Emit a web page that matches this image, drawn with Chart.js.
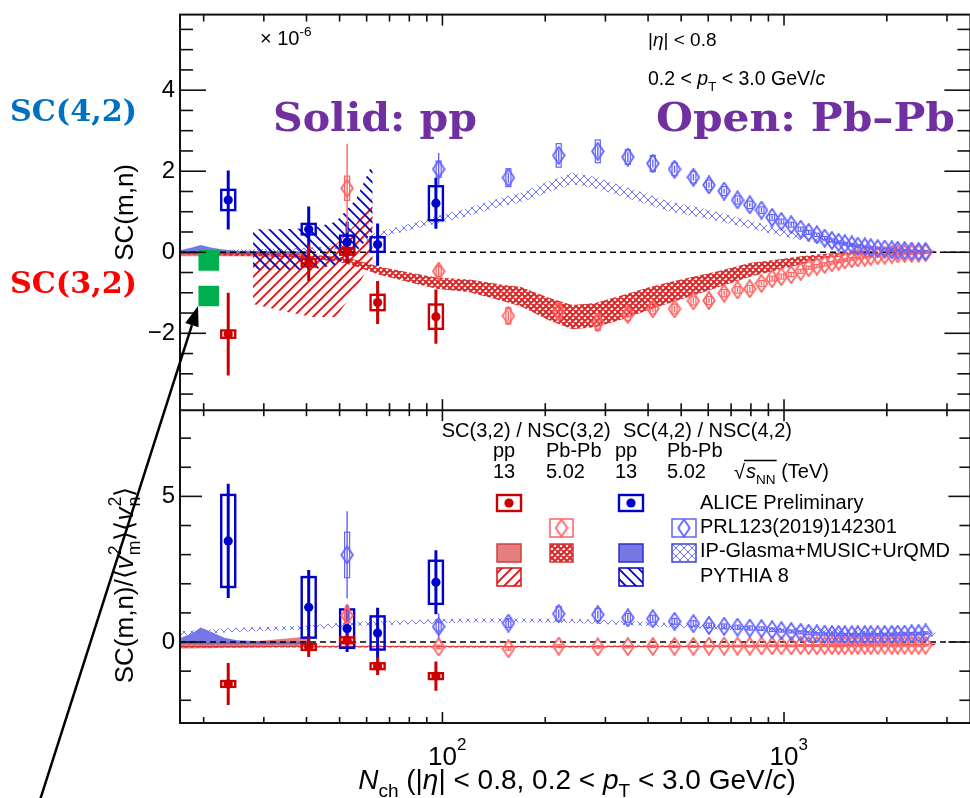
<!DOCTYPE html>
<html><head><meta charset="utf-8">
<script src="https://cdn.jsdelivr.net/npm/chart.js@4.4.1/dist/chart.umd.min.js"></script>
<style>
html,body{margin:0;padding:0;background:#fff;overflow:hidden}
#box{width:970px;height:798px;overflow:hidden;position:relative;background:#fff}
#c{position:absolute;left:0;top:0}
</style></head><body><div id="box"><canvas id="c" width="985" height="798"></canvas></div>
<script>
// ---------------- DATA ----------------
// ALICE Preliminary, pp 13 TeV
const ppNch = [23.6, 40.6, 52.6, 64.6, 95.7];
const ppSC42 = [1.29, 0.57, 0.25, 0.19, 1.21];
const ppSC42Stat = [0.73, 0.56, 0.5, 0.52, 0.63];
const ppSC42Sys = [0.25, 0.13, 0.16, 0.18, 0.42];
const ppSC32 = [-2.02, -0.26, 0.02, -1.24, -1.59];
const ppSC32Stat = [1.02, 0.45, 0.28, 0.53, 0.67];
const ppSC32Sys = [0.09, 0.09, 0.08, 0.19, 0.3];
const ppNSC42 = [3.47, 1.19, 0.46, 0.31, 2.05];
const ppNSC42Stat = [1.96, 1.28, 0.8, 0.87, 1.1];
const ppNSC42Sys = [1.58, 1.04, 0.66, 0.57, 0.74];
const ppNSC32 = [-1.44, -0.17, 0.06, -0.83, -1.17];
const ppNSC32Stat = [0.72, 0.34, 0.2, 0.3, 0.5];
const ppNSC32Sys = [0.1, 0.1, 0.1, 0.1, 0.1];

// PRL123(2019)142301, Pb-Pb 5.02 TeV
const pbNch = [52.6, 97.5, 156, 219, 285, 349, 413, 478, 543, 603, 668, 731, 794, 859, 923, 982, 1050, 1119, 1181, 1248, 1315, 1381, 1445, 1507, 1579, 1644, 1724, 1794, 1881, 1971, 2067, 2151, 2254, 2363, 2477, 2597];
const pbSC42 = [null, 2.05, 1.84, 2.39, 2.49, 2.35, 2.19, 2.05, 1.85, 1.66, 1.51, 1.29, 1.17, 1.04, 0.86, 0.76, 0.68, 0.57, 0.49, 0.43, 0.35, 0.29, 0.245, 0.21, 0.18, 0.15, 0.13, 0.11, 0.09, 0.08, 0.06, 0.05, 0.04, 0.03, 0.02, 0.02];
const pbSC42Stat = [0, 0.4, 0.12, 0.14, 0.14, 0.12, 0.1, 0.09, 0.08, 0.07, 0.06, 0.06, 0.05, 0.05, 0.05, 0.04, 0.04, 0.04, 0.04, 0.03, 0.03, 0.03, 0.03, 0.03, 0.03, 0.02, 0.02, 0.02, 0.02, 0.02, 0.02, 0.02, 0.02, 0.02, 0.02, 0.02];
const pbSC42Sys = [0, 0.2, 0.22, 0.29, 0.28, 0.18, 0.2, 0.16, 0.14, 0.12, 0.11, 0.1, 0.09, 0.08, 0.07, 0.06, 0.06, 0.05, 0.05, 0.04, 0.04, 0.04, 0.03, 0.03, 0.03, 0.03, 0.02, 0.02, 0.02, 0.02, 0.02, 0.02, 0.02, 0.02, 0.02, 0.02];
const pbSC32 = [1.58, -0.47, -1.57, -1.45, -1.73, -1.53, -1.39, -1.40, -1.20, -1.19, -1.01, -0.93, -0.90, -0.77, -0.65, -0.60, -0.55, -0.47, -0.38, -0.34, -0.30, -0.26, -0.22, -0.19, -0.16, -0.14, -0.12, -0.10, -0.08, -0.07, -0.05, -0.04, -0.03, -0.03, -0.02, -0.01];
const pbSC32Stat = [1.1, 0.23, 0.12, 0.12, 0.12, 0.1, 0.09, 0.08, 0.07, 0.06, 0.06, 0.05, 0.05, 0.04, 0.04, 0.04, 0.03, 0.03, 0.03, 0.03, 0.03, 0.02, 0.02, 0.02, 0.02, 0.02, 0.02, 0.02, 0.02, 0.02, 0.02, 0.02, 0.02, 0.02, 0.02, 0.02];
const pbSC32Sys = [0.3, 0.12, 0.2, 0.2, 0.2, 0.15, 0.13, 0.12, 0.1, 0.1, 0.09, 0.08, 0.08, 0.07, 0.06, 0.06, 0.05, 0.05, 0.04, 0.04, 0.04, 0.03, 0.03, 0.03, 0.03, 0.02, 0.02, 0.02, 0.02, 0.02, 0.02, 0.02, 0.02, 0.02, 0.02, 0.02];
const pbNSC42 = [2.99, 0.53, 0.65, 0.97, 0.94, 0.83, 0.80, 0.71, 0.63, 0.57, 0.54, 0.51, 0.48, 0.46, 0.42, 0.39, 0.36, 0.33, 0.30, 0.28, 0.27, 0.26, 0.26, 0.25, 0.25, 0.25, 0.25, 0.25, 0.25, 0.26, 0.26, 0.27, 0.27, 0.28, 0.29, 0.31];
const pbNSC42Stat = [1.5, 0.45, 0.15, 0.15, 0.13, 0.12, 0.1, 0.09, 0.08, 0.07, 0.07, 0.06, 0.06, 0.05, 0.05, 0.05, 0.05, 0.04, 0.04, 0.04, 0.04, 0.04, 0.04, 0.04, 0.04, 0.04, 0.04, 0.04, 0.04, 0.04, 0.04, 0.04, 0.04, 0.04, 0.04, 0.04];
const pbNSC42Sys = [0.78, 0.15, 0.15, 0.25, 0.2, 0.15, 0.12, 0.1, 0.1, 0.08, 0.08, 0.07, 0.07, 0.06, 0.06, 0.05, 0.05, 0.05, 0.05, 0.04, 0.04, 0.04, 0.04, 0.04, 0.04, 0.04, 0.04, 0.04, 0.04, 0.04, 0.04, 0.04, 0.04, 0.04, 0.04, 0.04];
const pbNSC32 = [0.91, -0.17, -0.23, -0.14, -0.17, -0.16, -0.15, -0.15, -0.15, -0.14, -0.14, -0.14, -0.14, -0.13, -0.13, -0.13, -0.13, -0.12, -0.12, -0.12, -0.12, -0.12, -0.12, -0.12, -0.11, -0.11, -0.11, -0.11, -0.11, -0.11, -0.11, -0.11, -0.11, -0.11, -0.11, -0.11];
const pbNSC32Stat = [0.4, 0.08, 0.06, 0.05, 0.05, 0.05, 0.04, 0.04, 0.04, 0.04, 0.03, 0.03, 0.03, 0.03, 0.03, 0.03, 0.03, 0.03, 0.03, 0.03, 0.03, 0.03, 0.03, 0.03, 0.03, 0.03, 0.03, 0.03, 0.03, 0.03, 0.03, 0.03, 0.03, 0.03, 0.03, 0.03];
const pbNSC32Sys = [0.25, 0.06, 0.05, 0.05, 0.04, 0.04, 0.04, 0.04, 0.03, 0.03, 0.03, 0.03, 0.03, 0.03, 0.03, 0.03, 0.03, 0.03, 0.03, 0.03, 0.03, 0.03, 0.03, 0.03, 0.03, 0.03, 0.03, 0.03, 0.03, 0.03, 0.03, 0.03, 0.03, 0.03, 0.03, 0.03];

// IP-Glasma+MUSIC+UrQMD, Pb-Pb (centre and half width of band)
const modelPbN = [17, 20, 25, 30, 40, 50, 55, 65, 80, 96, 120, 150, 170, 205, 240, 280, 330, 400, 460, 550, 640, 800, 1000, 1120, 1300, 1600, 2000, 2500, 2800];
const modelPbSC42 = [0.02, 0.03, 0.04, 0.05, 0.07, 0.12, 0.22, 0.43, 0.62, 0.8, 1.0, 1.25, 1.35, 1.62, 1.82, 1.72, 1.53, 1.3, 1.13, 1.0, 0.88, 0.68, 0.47, 0.38, 0.28, 0.17, 0.08, 0.03, 0.02];
const modelPbSC42W = [0.03, 0.03, 0.03, 0.03, 0.04, 0.05, 0.06, 0.07, 0.08, 0.09, 0.1, 0.11, 0.12, 0.13, 0.14, 0.14, 0.13, 0.13, 0.12, 0.12, 0.11, 0.1, 0.09, 0.08, 0.07, 0.05, 0.04, 0.03, 0.03];
const modelPbSC32 = [-0.02, -0.03, -0.05, -0.06, -0.1, -0.18, -0.25, -0.45, -0.62, -0.76, -0.83, -1.0, -1.1, -1.4, -1.6, -1.55, -1.38, -1.15, -1.0, -0.82, -0.67, -0.43, -0.28, -0.2, -0.1, -0.03, 0.0, 0.0, 0.0];
const modelPbSC32W = [0.03, 0.03, 0.04, 0.04, 0.05, 0.06, 0.08, 0.1, 0.12, 0.14, 0.16, 0.2, 0.24, 0.28, 0.3, 0.3, 0.3, 0.28, 0.26, 0.23, 0.2, 0.17, 0.12, 0.1, 0.06, 0.04, 0.03, 0.02, 0.02];
const modelPbNSC42 = [0.3, 0.35, 0.42, 0.45, 0.5, 0.58, 0.62, 0.65, 0.68, 0.71, 0.74, 0.74, 0.74, 0.73, 0.72, 0.7, 0.66, 0.62, 0.58, 0.54, 0.5, 0.46, 0.42, 0.4, 0.37, 0.33, 0.3, 0.27, 0.25];
const modelPbNSC42W = [0.07, 0.07, 0.07, 0.07, 0.07, 0.07, 0.07, 0.07, 0.07, 0.07, 0.07, 0.07, 0.07, 0.07, 0.07, 0.07, 0.07, 0.07, 0.07, 0.07, 0.07, 0.07, 0.07, 0.07, 0.07, 0.07, 0.07, 0.07, 0.07];
const modelPbNSC32 = [-0.16, -0.16, -0.16, -0.16, -0.16, -0.16, -0.16, -0.16, -0.16, -0.16, -0.16, -0.16, -0.16, -0.16, -0.16, -0.16, -0.15, -0.15, -0.15, -0.15, -0.14, -0.14, -0.13, -0.13, -0.12, -0.11, -0.1, -0.09, -0.08];
const modelPbNSC32W = [0.03, 0.03, 0.03, 0.03, 0.03, 0.03, 0.03, 0.03, 0.03, 0.03, 0.03, 0.03, 0.03, 0.03, 0.03, 0.03, 0.03, 0.03, 0.03, 0.03, 0.03, 0.03, 0.03, 0.03, 0.03, 0.03, 0.03, 0.03, 0.03];

// IP-Glasma+MUSIC+UrQMD, pp (upper / lower edge)
const modelPpN = [17, 18.5, 19.6, 21, 23, 25, 30, 35, 41];
const modelPpSC42Hi = [0.05, 0.12, 0.18, 0.12, 0.06, 0.04, 0.03, 0.02, 0.02];
const modelPpSC42Lo = [-0.03, -0.03, -0.03, -0.03, -0.03, -0.03, -0.03, -0.03, -0.03];
const modelPpSC32Hi = [0.03, 0.03, 0.03, 0.03, 0.03, 0.03, 0.03, 0.02, 0.02];
const modelPpSC32Lo = [-0.1, -0.1, -0.1, -0.1, -0.1, -0.1, -0.1, -0.1, -0.1];
const modelPpNSC42Hi = [0.12, 0.3, 0.5, 0.35, 0.15, 0.06, 0.03, 0.02, 0.02];
const modelPpNSC42Lo = [-0.08, -0.08, -0.08, -0.08, -0.08, -0.08, -0.08, -0.08, -0.08];
const modelPpNSC32Hi = [-0.02, -0.02, -0.01, -0.01, 0.0, 0.0, 0.05, 0.12, 0.2];
const modelPpNSC32Lo = [-0.22, -0.22, -0.21, -0.21, -0.2, -0.2, -0.18, -0.15, -0.12];

// PYTHIA 8, pp (upper / lower edge)
const pythiaN = [27.9, 34, 41.7, 48.8, 55.8, 62.5];
const pythiaSC42Hi = [0.57, 0.57, 0.6, 0.75, 1.3, 2.2];
const pythiaSC42Lo = [-0.43, -0.43, -0.43, -0.3, 0.0, 0.5];
const pythiaSC32Hi = [0.0, -0.05, -0.1, 0.2, 0.7, 1.35];
const pythiaSC32Lo = [-1.28, -1.45, -1.6, -1.6, -0.9, -0.2];

// slide annotation markers (green squares)
const markNch = [20.7, 20.7];
const markSC = [-0.2, -1.08];

// axis ticks
const yTopLabels = [-2, 0, 2, 4];
const yBotLabels = [0, 5];
const xMajorTicks = [100, 1000];
const xMinorTicks = [20, 30, 40, 50, 60, 70, 80, 90, 200, 300, 400, 500, 600, 700, 800, 900, 2000, 3000];

// ---------------- STYLE HELPERS ----------------
const FONT = 'Liberation Sans';
Chart.defaults.font.family = FONT;
const canvas = document.getElementById('c');
const mctx = canvas.getContext('2d');
const C_BLUE = '#0000CC', C_RED = '#CC0000', C_LBLUE = '#6262FF', C_LRED = '#FF6262';

function pat(kind, color, lw, s) {
  const c = document.createElement('canvas'); c.width = s; c.height = s;
  const g = c.getContext('2d'); g.strokeStyle = color; g.lineWidth = lw;
  g.beginPath();
  if (kind !== 'back') { g.moveTo(-s, 2*s); g.lineTo(2*s, -s); g.moveTo(-s, s); g.lineTo(s, -s); g.moveTo(0, 2*s); g.lineTo(2*s, 0); }
  if (kind !== 'fwd') { g.moveTo(-s, -s); g.lineTo(2*s, 2*s); g.moveTo(-s, 0); g.lineTo(s, 2*s); g.moveTo(0, -s); g.lineTo(2*s, s); }
  g.stroke();
  return mctx.createPattern(c, 'repeat');
}
const patPyBlue = pat('back', C_BLUE, 1.8, 10);
const patPyRed = pat('fwd', '#DD1111', 1.8, 10);
const patPbBlue = pat('cross', '#7070FF', 1, 8);
const patPbRed = pat('cross', '#D82828', 2, 6);
const fillPpBlue = 'rgba(95,95,225,0.85)';
const fillPpRed = 'rgba(225,105,105,0.85)';

function diamondImg(color) {
  const c = document.createElement('canvas'); c.width = 14; c.height = 19;
  const g = c.getContext('2d'); g.strokeStyle = color; g.lineWidth = 1.8;
  g.beginPath(); g.moveTo(7, 1); g.lineTo(12.8, 9.5); g.lineTo(7, 18); g.lineTo(1.2, 9.5); g.closePath(); g.stroke();
  return c;
}
const dBlue = diamondImg(C_LBLUE), dRed = diamondImg(C_LRED);

function pts(xs, ys, es, ss) {
  return xs.map((x, i) => ({ x, y: ys[i], e: es ? es[i] : 0, s: ss ? ss[i] : 0 }));
}
function bandHL(label, xs, hi, lo, axis, fill) {
  return [
    { type: 'line', label: label + ' hi', yAxisID: axis, data: xs.map((x, i) => ({ x, y: hi[i] })), showLine: true,
      borderColor: 'rgba(0,0,0,0)', borderWidth: 0, pointRadius: 0, backgroundColor: fill, fill: '+1', tension: 0 },
    { type: 'line', label: label + ' lo', yAxisID: axis, data: xs.map((x, i) => ({ x, y: lo[i] })), showLine: true,
      borderColor: 'rgba(0,0,0,0)', borderWidth: 0, pointRadius: 0, fill: false, tension: 0 }
  ];
}
function bandCW(label, xs, c, w, axis, fill) {
  return bandHL(label, xs, c.map((v, i) => v + w[i]), c.map((v, i) => v - w[i]), axis, fill);
}
function markers(label, data, axis, style, color, err) {
  const isImg = typeof style !== 'string';
  return { type: 'scatter', label, yAxisID: axis, data, pointStyle: style,
    pointRadius: isImg ? 8 : 4.6, backgroundColor: color, borderColor: color, borderWidth: 0, err };
}
const errALICE = (color) => ({ color, statW: 3, boxW: 2.4, hw: 7 });
const errPb = (color) => ({ color, statW: 1.4, boxW: 1.2, hw: 2.5 });

const datasets = [
  { type: 'scatter', label: 'annotation', yAxisID: 'yTop', data: markNch.map((x, i) => ({ x, y: markSC[i] })),
    pointStyle: 'rect', pointRadius: 14.6, backgroundColor: '#00B050', borderWidth: 0 },
  markers('ALICE pp SC(4,2)', pts(ppNch, ppSC42, ppSC42Stat, ppSC42Sys), 'yTop', 'circle', C_BLUE, errALICE(C_BLUE)),
  markers('ALICE pp SC(3,2)', pts(ppNch, ppSC32, ppSC32Stat, ppSC32Sys), 'yTop', 'circle', C_RED, errALICE(C_RED)),
  markers('ALICE pp NSC(4,2)', pts(ppNch, ppNSC42, ppNSC42Stat, ppNSC42Sys), 'yBot', 'circle', C_BLUE, errALICE(C_BLUE)),
  markers('ALICE pp NSC(3,2)', pts(ppNch, ppNSC32, ppNSC32Stat, ppNSC32Sys), 'yBot', 'circle', C_RED, errALICE(C_RED)),
  markers('Pb-Pb SC(4,2)', pts(pbNch, pbSC42, pbSC42Stat, pbSC42Sys), 'yTop', dBlue, C_LBLUE, errPb(C_LBLUE)),
  markers('Pb-Pb SC(3,2)', pts(pbNch, pbSC32, pbSC32Stat, pbSC32Sys), 'yTop', dRed, C_LRED, errPb(C_LRED)),
  markers('Pb-Pb NSC(4,2)', pts(pbNch, pbNSC42, pbNSC42Stat, pbNSC42Sys), 'yBot', dBlue, C_LBLUE, errPb(C_LBLUE)),
  markers('Pb-Pb NSC(3,2)', pts(pbNch, pbNSC32, pbNSC32Stat, pbNSC32Sys), 'yBot', dRed, C_LRED, errPb(C_LRED)),
  ...bandHL('PYTHIA SC(4,2)', pythiaN, pythiaSC42Hi, pythiaSC42Lo, 'yTop', patPyBlue),
  ...bandHL('PYTHIA SC(3,2)', pythiaN, pythiaSC32Hi, pythiaSC32Lo, 'yTop', patPyRed),
  ...bandCW('IPG PbPb SC(4,2)', modelPbN, modelPbSC42, modelPbSC42W, 'yTop', patPbBlue),
  ...bandCW('IPG PbPb SC(3,2)', modelPbN, modelPbSC32, modelPbSC32W, 'yTop', patPbRed),
  ...bandCW('IPG PbPb NSC(4,2)', modelPbN, modelPbNSC42, modelPbNSC42W, 'yBot', patPbBlue),
  ...bandCW('IPG PbPb NSC(3,2)', modelPbN, modelPbNSC32, modelPbNSC32W, 'yBot', patPbRed),
  ...bandHL('IPG pp SC(4,2)', modelPpN, modelPpSC42Hi, modelPpSC42Lo, 'yTop', fillPpBlue),
  ...bandHL('IPG pp SC(3,2)', modelPpN, modelPpSC32Hi, modelPpSC32Lo, 'yTop', fillPpRed),
  ...bandHL('IPG pp NSC(4,2)', modelPpN, modelPpNSC42Hi, modelPpNSC42Lo, 'yBot', fillPpBlue),
  ...bandHL('IPG pp NSC(3,2)', modelPpN, modelPpNSC32Hi, modelPpNSC32Lo, 'yBot', fillPpRed),
];

// ---------------- TEXT HELPER ----------------
function rich(ctx, segs, x, y, size, align, family) {
  const fam = family || FONT, small = size * 0.68;
  const items = segs.map(s => {
    if (typeof s === 'string') s = { t: s };
    if (s.ss) {
      ctx.font = `${small}px ${fam}`;
      return { s, w: Math.max(ctx.measureText(s.ss[0]).width, ctx.measureText(s.ss[1]).width) + 1 };
    }
    const sz = (s.sub || s.sup) ? small : size;
    const font = `${s.it ? 'italic ' : ''}${sz}px ${fam}`;
    ctx.font = font;
    return { s, font, w: ctx.measureText(s.t).width + (s.pad || 0) };
  });
  const total = items.reduce((a, b) => a + b.w, 0);
  let cx = align === 'center' ? x - total / 2 : align === 'right' ? x - total : x;
  ctx.textAlign = 'left'; ctx.textBaseline = 'alphabetic';
  for (const it of items) {
    const s = it.s;
    if (s.ss) {
      ctx.font = `${small}px ${fam}`;
      ctx.fillText(s.ss[0], cx + 1, y - size * 0.45);
      ctx.fillText(s.ss[1], cx + 1, y + size * 0.25);
    } else {
      ctx.font = it.font;
      const dy = s.sub ? size * 0.3 : s.sup ? -size * 0.45 : 0;
      ctx.fillText(s.t, cx, y + dy);
    }
    cx += it.w;
  }
  return total;
}

// ---------------- PLUGINS ----------------
const underlay = {
  id: 'underlay',
  beforeDatasetsDraw(chart) {
    const { ctx, chartArea: ca, scales } = chart;
    ctx.save();
    ctx.beginPath(); ctx.rect(ca.left, ca.top, ca.right - ca.left, ca.bottom - ca.top); ctx.clip();
    ctx.strokeStyle = '#000'; ctx.lineWidth = 1.5; ctx.setLineDash([6, 4]);
    for (const id of ['yTop', 'yBot']) {
      const y0 = scales[id].getPixelForValue(0);
      ctx.beginPath(); ctx.moveTo(ca.left, y0); ctx.lineTo(ca.right, y0); ctx.stroke();
    }
    ctx.setLineDash([]);
    chart.data.datasets.forEach((ds, i) => {
      if (!ds.err) return;
      const meta = chart.getDatasetMeta(i), ys = scales[ds.yAxisID], E = ds.err;
      ctx.strokeStyle = E.color;
      ds.data.forEach((d, j) => {
        if (d.y == null) return;
        const x = meta.data[j].x;
        if (d.e) {
          ctx.lineWidth = E.statW; ctx.beginPath();
          ctx.moveTo(x, ys.getPixelForValue(d.y + d.e)); ctx.lineTo(x, ys.getPixelForValue(d.y - d.e)); ctx.stroke();
        }
        if (d.s) {
          const t = ys.getPixelForValue(d.y + d.s), b = ys.getPixelForValue(d.y - d.s);
          ctx.lineWidth = E.boxW; ctx.strokeRect(x - E.hw, t, 2 * E.hw, b - t);
        }
      });
    });
    ctx.restore();
  }
};

const overlay = {
  id: 'overlay',
  afterDraw(chart) {
    const { ctx, chartArea: ca, scales } = chart;
    const X = scales.x, T = scales.yTop, B = scales.yBot;
    const L = ca.left, R = ca.right, mid = T.bottom;
    ctx.save();
    ctx.strokeStyle = '#111'; ctx.lineWidth = 1.6;
    const seg = (x1, y1, x2, y2) => { ctx.beginPath(); ctx.moveTo(x1, y1); ctx.lineTo(x2, y2); ctx.stroke(); };
    for (let k = -7; k <= 11; k++) {
      const y = T.getPixelForValue(k / 2), len = (k % 4 === 0) ? 26 : 13;
      seg(L, y, L + len, y); seg(R, y, R - len, y);
    }
    for (let v = -2; v <= 7; v++) {
      const y = B.getPixelForValue(v), len = (v % 5 === 0) ? 22 : 11;
      seg(L, y, L + len, y); seg(R, y, R - len, y);
    }
    const xt = [...xMajorTicks.map(v => [v, 1]), ...xMinorTicks.map(v => [v, 0])];
    for (const [v, maj] of xt) {
      const x = X.getPixelForValue(v);
      const lT = maj ? 11 : 7, lB = maj ? 11 : 6;
      seg(x, T.top, x, T.top + lT); seg(x, mid, x, mid - lT);
      seg(x, mid, x, mid + lB); seg(x, B.bottom, x, B.bottom - lB);
    }
    ctx.strokeStyle = '#111'; ctx.lineWidth = 2;
    ctx.strokeRect(L, T.top, R - L, B.bottom - T.top);
    seg(L, mid, R, mid);

    ctx.fillStyle = '#000';
    for (const v of xMajorTicks) {
      const x = X.getPixelForValue(v);
      ctx.font = `26px ${FONT}`;
      const w = ctx.measureText('10').width;
      ctx.textAlign = 'left'; ctx.textBaseline = 'alphabetic';
      ctx.fillText('10', x - w / 2, 765);
      ctx.font = `17px ${FONT}`;
      ctx.fillText(String(Math.round(Math.log10(v))), x + w / 2, 750);
    }
    rich(ctx, [{ t: 'N' , it: true }, { t: 'ch', sub: true }, ' (|', { t: 'η', it: true }, '| < 0.8, 0.2 < ', { t: 'p', it: true }, { t: 'T', sub: true }, ' < 3.0 GeV/', { t: 'c', it: true }, ')'], 577, 789, 28, 'center');
    ctx.save(); ctx.translate(133, (T.top + T.bottom) / 2); ctx.rotate(-Math.PI / 2);
    rich(ctx, ['SC(m,n)'], 0, 0, 26, 'center'); ctx.restore();
    ctx.save(); ctx.translate(133, 585); ctx.rotate(-Math.PI / 2);
    rich(ctx, ['SC(m,n)/⟨', { t: 'v', it: true }, { ss: ['2', 'm'] }, '⟩⟨', { t: 'v', it: true }, { ss: ['2', 'n'] }, '⟩'], 0, 0, 26, 'center');
    ctx.restore();

    rich(ctx, ['× 10', { t: '-6', sup: true }], 260, 45, 20, 'left');
    rich(ctx, ['|', { t: 'η', it: true }, '| < 0.8'], 648, 46, 19, 'left');
    rich(ctx, ['0.2 < ', { t: 'p', it: true }, { t: 'T', sub: true }, ' < 3.0 GeV/', { t: 'c', it: true }], 648, 85, 19.5, 'left');

    const LS = 20;
    ctx.fillStyle = '#000';
    rich(ctx, ['SC(3,2) / NSC(3,2)'], 441.7, 437, LS, 'left');
    rich(ctx, ['SC(4,2) / NSC(4,2)'], 623, 437, LS, 'left');
    [['pp', 493], ['Pb-Pb', 546], ['pp', 615], ['Pb-Pb', 667]].forEach(([t, x]) => rich(ctx, [t], x, 457, LS, 'left'));
    [['13', 493], ['5.02', 546], ['13', 615], ['5.02', 667]].forEach(([t, x]) => rich(ctx, [t], x, 478, LS, 'left'));
    ctx.font = `${LS}px ${FONT}`;
    ctx.fillText('√', 734, 479);
    const w1 = rich(ctx, [{ t: 's', it: true }, { t: 'NN', sub: true }], 746, 478, LS, 'left');
    ctx.strokeStyle = '#000'; ctx.lineWidth = 1.3; seg(744, 460.5, 746 + w1 + 1, 460.5);
    rich(ctx, [' (TeV)'], 746 + w1, 478, LS, 'left');
    rich(ctx, ['ALICE Preliminary'], 700, 509, LS, 'left');
    rich(ctx, ['PRL123(2019)142301'], 700, 533, LS, 'left');
    rich(ctx, ['IP-Glasma+MUSIC+UrQMD'], 700, 557, LS, 'left');
    rich(ctx, ['PYTHIA 8'], 700, 582, LS, 'left');
    const box = (x0, y0, x1, y1, fill, stroke, lw) => {
      if (fill) { ctx.fillStyle = fill; ctx.fillRect(x0, y0, x1 - x0, y1 - y0); }
      ctx.strokeStyle = stroke; ctx.lineWidth = lw; ctx.strokeRect(x0, y0, x1 - x0, y1 - y0);
    };
    const dot = (x, y, c) => { ctx.fillStyle = c; ctx.beginPath(); ctx.arc(x, y, 4.6, 0, Math.PI * 2); ctx.fill(); };
    box(497, 495, 521, 511, null, C_RED, 2.4); dot(509, 503, C_RED);
    box(619, 495, 643, 511, null, C_BLUE, 2.4); dot(631, 503, C_BLUE);
    box(550, 519, 573, 537, null, C_LRED, 1.5); ctx.drawImage(dRed, 561.5 - 7, 528 - 9.5);
    box(672, 519, 696, 537, null, C_LBLUE, 1.5); ctx.drawImage(dBlue, 684 - 7, 528 - 9.5);
    box(497, 544, 521, 562, fillPpRed, '#D04040', 1.5);
    box(550, 544, 573, 562, patPbRed, '#DD3333', 1.5);
    box(619, 544, 643, 562, fillPpBlue, '#3030C0', 1.5);
    box(672, 544, 696, 562, patPbBlue, '#4040E0', 1.5);
    box(497, 568, 521, 586, patPyRed, '#DD1111', 1.5);
    box(619, 568, 643, 586, patPyBlue, C_BLUE, 1.5);

    const slab = (t, x, y, size, color, w) => {
      ctx.font = `bold ${size}px 'DejaVu Serif'`;
      const m = ctx.measureText(t).width;
      ctx.save(); ctx.translate(x, y); ctx.scale(w / m, 1);
      ctx.fillStyle = color; ctx.textAlign = 'left'; ctx.textBaseline = 'alphabetic';
      ctx.fillText(t, 0, 0); ctx.restore();
    };
    slab('Solid: pp', 273, 131, 40, '#7030A0', 204);
    slab('Open: Pb–Pb', 656, 131, 40, '#7030A0', 299);
    slab('SC(4,2)', 10, 121, 29, '#0070C0', 127);
    slab('SC(3,2)', 10, 293, 29, '#FF0000', 127);
    const tip = [198, 306], tail = [40, 800];
    const dx = tip[0] - tail[0], dy = tip[1] - tail[1], dl = Math.hypot(dx, dy), ux = dx / dl, uy = dy / dl;
    const bx = tip[0] - ux * 20, by = tip[1] - uy * 20;
    ctx.strokeStyle = '#000'; ctx.lineWidth = 2.5;
    seg(tail[0], tail[1], bx, by);
    ctx.fillStyle = '#000'; ctx.beginPath(); ctx.moveTo(tip[0], tip[1]);
    ctx.lineTo(bx - uy * 7, by + ux * 7); ctx.lineTo(bx + uy * 7, by - ux * 7); ctx.closePath(); ctx.fill();
    ctx.restore();
  }
};

const noPad = s => { s.paddingTop = 0; s.paddingBottom = 0; s.paddingLeft = 0; s.paddingRight = 0; };

new Chart(canvas, {
  type: 'scatter',
  data: { datasets },
  options: {
    responsive: false, animation: false, devicePixelRatio: 1,
    layout: { padding: { top: 10, right: 12, bottom: 0, left: 0 } },
    plugins: { legend: { display: false }, tooltip: { enabled: false },
      filler: { drawTime: 'beforeDatasetsDraw', propagate: false } },
    elements: { line: { borderWidth: 0 } },
    scales: {
      x: { type: 'logarithmic', min: 17.05, max: 3513, position: 'bottom',
        grid: { display: false, drawTicks: false }, border: { display: false }, ticks: { display: false },
        afterFit: s => { s.height = 75; noPad(s); } },
      yTop: { type: 'linear', position: 'left', stack: 'panels', stackWeight: 398.3, weight: 2,
        min: -3.897, max: 5.865, grid: { display: false, drawTicks: false }, border: { display: false },
        afterBuildTicks: s => { s.ticks = yTopLabels.map(v => ({ value: v })); },
        ticks: { padding: 5, color: '#000', font: { size: 24, family: FONT }, callback: v => (v < 0 ? '−' + Math.abs(v) : String(v)) },
        afterFit: s => { s.width = 180; noPad(s); } },
      yBot: { type: 'linear', position: 'left', stack: 'panels', stackWeight: 315, weight: 1,
        min: -2.78, max: 7.96, grid: { display: false, drawTicks: false }, border: { display: false },
        afterBuildTicks: s => { s.ticks = yBotLabels.map(v => ({ value: v })); },
        ticks: { padding: 5, color: '#000', font: { size: 24, family: FONT }, callback: v => String(v) },
        afterFit: s => { s.width = 180; noPad(s); } }
    }
  },
  plugins: [underlay, overlay]
});
</script></body></html>
